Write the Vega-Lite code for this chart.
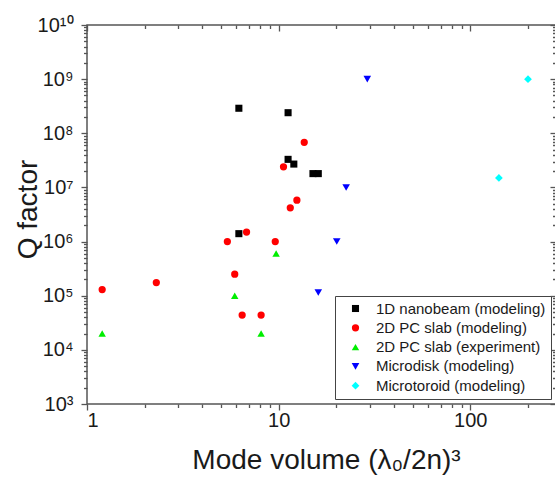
{
  "$schema": "https://vega.github.io/schema/vega-lite/v6.json",
  "width": 469,
  "height": 379,
  "autosize": {"type": "none"},
  "padding": {"left": 87, "top": 25, "right": 0, "bottom": 73},
  "background": "white",
  "config": {
    "view": {"stroke": "#555", "strokeWidth": 1.5},
    "axis": {
      "grid": false,
      "domain": false,
      "tickColor": "#555",
      "tickWidth": 1.3,
      "labelFont": "Liberation Sans",
      "titleFont": "Liberation Sans",
      "labelColor": "#1a1a1a",
      "titleColor": "#1a1a1a",
      "titleFontWeight": "normal"
    },
    "legend": {
      "orient": "bottom-right",
      "offset": 5,
      "strokeColor": "#444",
      "fillColor": "white",
      "padding": 5,
      "symbolOffset": 8,
      "labelOffset": 13,
      "labelFont": "Liberation Sans",
      "labelFontSize": 15,
      "labelColor": "#1a1a1a",
      "labelLimit": 0,
      "rowPadding": 3.3,
      "symbolSize": 45
    }
  },
  "data": {
    "values": [
      {"series": "1D nanobeam (modeling)", "x": 6.2, "q": 2.9e8},
      {"series": "1D nanobeam (modeling)", "x": 6.2, "q": 1.4e6},
      {"series": "1D nanobeam (modeling)", "x": 11.2, "q": 2.4e8},
      {"series": "1D nanobeam (modeling)", "x": 11.2, "q": 3.3e7},
      {"series": "1D nanobeam (modeling)", "x": 12.0, "q": 2.7e7},
      {"series": "1D nanobeam (modeling)", "x": 15.1, "q": 1.8e7},
      {"series": "1D nanobeam (modeling)", "x": 16.1, "q": 1.8e7},
      {"series": "2D PC slab (modeling)", "x": 1.2, "q": 1.3e5},
      {"series": "2D PC slab (modeling)", "x": 2.3, "q": 1.75e5},
      {"series": "2D PC slab (modeling)", "x": 5.4, "q": 1.0e6},
      {"series": "2D PC slab (modeling)", "x": 6.8, "q": 1.5e6},
      {"series": "2D PC slab (modeling)", "x": 5.9, "q": 2.5e5},
      {"series": "2D PC slab (modeling)", "x": 6.45, "q": 4.4e4},
      {"series": "2D PC slab (modeling)", "x": 8.1, "q": 4.4e4},
      {"series": "2D PC slab (modeling)", "x": 9.6, "q": 1.0e6},
      {"series": "2D PC slab (modeling)", "x": 10.6, "q": 2.4e7},
      {"series": "2D PC slab (modeling)", "x": 13.6, "q": 6.8e7},
      {"series": "2D PC slab (modeling)", "x": 12.45, "q": 5.8e6},
      {"series": "2D PC slab (modeling)", "x": 11.5, "q": 4.2e6},
      {"series": "2D PC slab (experiment)", "x": 1.2, "q": 2.0e4},
      {"series": "2D PC slab (experiment)", "x": 5.9, "q": 1.0e5},
      {"series": "2D PC slab (experiment)", "x": 8.1, "q": 2.0e4},
      {"series": "2D PC slab (experiment)", "x": 9.7, "q": 6.0e5},
      {"series": "Microdisk (modeling)", "x": 29, "q": 1.0e9},
      {"series": "Microdisk (modeling)", "x": 22.5, "q": 1.0e7},
      {"series": "Microdisk (modeling)", "x": 20.1, "q": 1.0e6},
      {"series": "Microdisk (modeling)", "x": 16.1, "q": 1.15e5},
      {"series": "Microtoroid (modeling)", "x": 200, "q": 1.0e9},
      {"series": "Microtoroid (modeling)", "x": 141, "q": 1.5e7}
    ]
  },
  "resolve": {"axis": {"x": "independent", "y": "independent"}},
  "layer": [
    {
      "mark": {"type": "point", "filled": true, "opacity": 1},
      "encoding": {
        "x": {
          "field": "x", "type": "quantitative",
          "scale": {"type": "log", "domain": [1, 280], "nice": false},
          "axis": {
            "orient": "bottom",
            "values": [1, 10, 100],
            "labelExpr": "datum.value",
            "labelFontSize": 20,
            "labelPadding": 0,
            "tickSize": 6,
            "title": "Mode volume (λ₀/2n)³",
            "titleFontSize": 28,
            "titleX": 239,
            "titleY": 42
          }
        },
        "y": {
          "field": "q", "type": "quantitative",
          "scale": {"type": "log", "domain": [1000, 10000000000], "nice": false},
          "axis": {
            "orient": "left",
            "values": [1000, 10000, 100000, 1000000, 10000000, 100000000, 1000000000, 10000000000],
            "labelExpr": "'10' + ['⁰','¹','²','³','⁴','⁵','⁶','⁷','⁸','⁹','¹⁰'][round(log(datum.value)/LN10)]",
            "labelFontSize": 20,
            "labelPadding": 8,
            "tickSize": 6,
            "title": "Q factor",
            "titleFontSize": 28,
            "titleX": -45,
            "titleY": 184
          }
        },
        "shape": {
          "field": "series", "type": "nominal",
          "scale": {
            "domain": ["1D nanobeam (modeling)", "2D PC slab (modeling)", "2D PC slab (experiment)", "Microdisk (modeling)", "Microtoroid (modeling)"],
            "range": ["square", "circle", "triangle-up", "triangle-down", "diamond"]
          },
          "legend": {"title": null}
        },
        "color": {
          "field": "series", "type": "nominal",
          "scale": {
            "domain": ["1D nanobeam (modeling)", "2D PC slab (modeling)", "2D PC slab (experiment)", "Microdisk (modeling)", "Microtoroid (modeling)"],
            "range": ["#000000", "#ff0000", "#00ee00", "#0000ff", "#00ffff"]
          },
          "legend": {"title": null}
        },
        "size": {
          "field": "series", "type": "nominal",
          "scale": {
            "domain": ["1D nanobeam (modeling)", "2D PC slab (modeling)", "2D PC slab (experiment)", "Microdisk (modeling)", "Microtoroid (modeling)"],
            "range": [50, 60, 70, 85, 85]
          },
          "legend": null
        }
      }
    },
    {
      "mark": {"type": "point", "opacity": 0},
      "encoding": {
        "x": {
          "field": "x", "type": "quantitative",
          "axis": {
            "orient": "bottom",
            "values": [2, 3, 4, 5, 6, 7, 8, 9, 20, 30, 40, 50, 60, 70, 80, 90, 200],
            "labels": false, "tickSize": 3.5, "title": null
          }
        },
        "y": {
          "field": "q", "type": "quantitative",
          "axis": {
            "orient": "left",
            "values": [2000, 3000, 4000, 5000, 6000, 7000, 8000, 9000, 20000, 30000, 40000, 50000, 60000, 70000, 80000, 90000, 200000, 300000, 400000, 500000, 600000, 700000, 800000, 900000, 2000000, 3000000, 4000000, 5000000, 6000000, 7000000, 8000000, 9000000, 20000000, 30000000, 40000000, 50000000, 60000000, 70000000, 80000000, 90000000, 200000000, 300000000, 400000000, 500000000, 600000000, 700000000, 800000000, 900000000, 2000000000, 3000000000, 4000000000, 5000000000, 6000000000, 7000000000, 8000000000, 9000000000],
            "labels": false, "tickSize": 3.5, "title": null
          }
        }
      }
    },
    {
      "mark": {"type": "point", "opacity": 0},
      "encoding": {
        "x": {
          "field": "x", "type": "quantitative",
          "axis": {"orient": "top", "values": [1, 10, 100], "labels": false, "tickSize": -6, "title": null}
        },
        "y": {
          "field": "q", "type": "quantitative",
          "axis": {"orient": "right", "values": [1000, 10000, 100000, 1000000, 10000000, 100000000, 1000000000, 10000000000], "labels": false, "tickSize": -6, "title": null}
        }
      }
    },
    {
      "mark": {"type": "point", "opacity": 0},
      "encoding": {
        "x": {
          "field": "x", "type": "quantitative",
          "axis": {
            "orient": "top",
            "values": [2, 3, 4, 5, 6, 7, 8, 9, 20, 30, 40, 50, 60, 70, 80, 90, 200],
            "labels": false, "tickSize": -3.5, "title": null
          }
        },
        "y": {
          "field": "q", "type": "quantitative",
          "axis": {
            "orient": "right",
            "values": [2000, 3000, 4000, 5000, 6000, 7000, 8000, 9000, 20000, 30000, 40000, 50000, 60000, 70000, 80000, 90000, 200000, 300000, 400000, 500000, 600000, 700000, 800000, 900000, 2000000, 3000000, 4000000, 5000000, 6000000, 7000000, 8000000, 9000000, 20000000, 30000000, 40000000, 50000000, 60000000, 70000000, 80000000, 90000000, 200000000, 300000000, 400000000, 500000000, 600000000, 700000000, 800000000, 900000000, 2000000000, 3000000000, 4000000000, 5000000000, 6000000000, 7000000000, 8000000000, 9000000000],
            "labels": false, "tickSize": -3.5, "title": null
          }
        }
      }
    }
  ]
}
